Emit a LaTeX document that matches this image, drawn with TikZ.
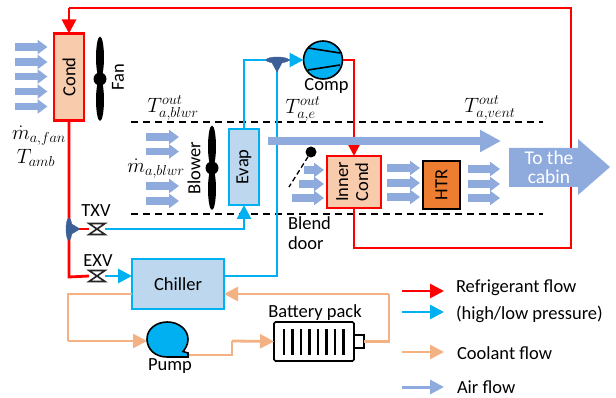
\documentclass[tikz,border=0pt]{standalone}
\usepackage{fontspec}
\setmainfont{Carlito}
\usetikzlibrary{arrows.meta,shapes.geometric}
\definecolor{refred}{HTML}{FF0000}
\definecolor{refblue}{HTML}{00B0F0}
\definecolor{coolant}{HTML}{F4B183}
\definecolor{airc}{HTML}{8FAADC}
\definecolor{condfill}{HTML}{F8CBAD}
\definecolor{evapfill}{HTML}{BDD7EE}
\definecolor{htrfill}{HTML}{ED7D31}
\definecolor{tee}{HTML}{3B5F96}
\tikzset{
  x=1pt,y=-1pt,
  every node/.style={font=\fontsize{18.5}{20}\selectfont,inner sep=0pt,outer sep=0pt},
  redline/.style={draw=refred,line width=2.8pt},
  blueline/.style={draw=refblue,line width=2.8pt},
  coolline/.style={draw=coolant,line width=2.8pt},
  redflow/.style={redline,-{Triangle[length=14pt,width=14pt]}},
  blueflow/.style={blueline,-{Triangle[length=14pt,width=14pt]}},
  coolflow/.style={coolline,-{Triangle[length=14pt,width=14pt]}},
  airflow/.style={draw=airc,line width=7.5pt,-{Triangle[length=10pt,width=14pt]}},
  bigair/.style={draw=airc,line width=7.5pt,-{Triangle[length=21pt,width=21pt]}},
  unitbox/.style={draw,line width=2.6pt,minimum width=#1,align=center},
  dashline/.style={draw=black,line width=1.5pt,dash pattern=on 7pt off 5pt},
  valvebox/.style={minimum width=16pt,minimum height=11pt},
  hub/.style={circle,fill=black,minimum size=13pt},
  blade/.style={ellipse,fill=black,minimum width=8pt,minimum height=42pt},
  teepiece/.style={fill=tee,draw=tee},
  lbl/.style={anchor=west},
  mathlbl/.style={font=\fontsize{20}{22}\selectfont},
}
\newcommand{\vbowtie}[1]{\draw[line width=1.6pt,fill=white,draw=black!85] (#1.north west)--(#1.south east)--(#1.south west)--(#1.north east)--cycle;}
\begin{document}
\begin{tikzpicture}
\useasboundingbox (0,0) rectangle (616,398);
% air arrows into condenser
\foreach \i/\y in {a/47,b/62,c/76.5,d/91.5,e/106.5}{
  \coordinate (ca\i) at (15,\y); \coordinate (cb\i) at (47.5,\y);
  \draw[airflow] (ca\i)--(cb\i);
}
\foreach \i/\y in {a/137,b/151.5,c/186,d/201}{
  \coordinate (ba\i) at (146,\y); \coordinate (bb\i) at (179,\y);
  \draw[airflow] (ba\i)--(bb\i);
}
% boxes
\node[unitbox=30pt,draw=refred,fill=condfill,minimum height=87pt] (cond) at (69,77) {\rotatebox{90}{Cond}};
\node[unitbox=30pt,draw=refblue,fill=evapfill,minimum height=76pt] (evap) at (244,167) {\rotatebox{90}{Evap}};
\node[unitbox=54pt,draw=refred,fill=condfill,minimum height=52pt] (icond) at (354,182) {\rotatebox{90}{\begin{tabular}{@{}c@{}}Inner\\[0pt]Cond\end{tabular}}};
\node[unitbox=37pt,draw=black,fill=htrfill,minimum height=48pt] (htr) at (441.5,185) {\rotatebox{90}{HTR}};
\node[unitbox=92pt,draw=refblue,fill=evapfill,minimum height=50pt] (chiller) at (178,284) {Chiller};
% compressor
\node[ellipse,draw=black,line width=1.6pt,fill=refblue,minimum width=39pt,minimum height=38pt] (comp) at (323,60) {};
\draw[line width=1.6pt] (308,48)--(340,53) (308,70)--(340,65);
\node (complbl) at (326.5,86) {Comp};
% valves
\node[valvebox] (txv) at (97,229) {};
\node[valvebox] (exv) at (97,276) {};
\coordinate (top1) at (69,8);
\coordinate (top2) at (571,8);
\coordinate (top3) at (571,248);
\coordinate (top4) at (354,248);
% tee junctions
\coordinate (teea) at (277,60);
\coordinate (teeb) at (69,229);
% dashed lines
\coordinate (d1a) at (131,122); \coordinate (d1b) at (543,122);
\coordinate (d2a) at (131,214); \coordinate (d2b) at (543,214);
\draw[dashline] (d1a)--(d1b);
\draw[dashline] (d2a)--(d2b);
% refrigerant lines
\draw[redline] (icond.south)--(top4)--(top3)--(top2)--(top1);
\draw[redflow] (top1)--(cond.north);
\draw[redline] (cond.south)--(69,277)--(exv.west);
\draw[redline] (teeb)--(txv.west);
\draw[blueflow] (exv.east)--(chiller.west |- exv.east);
\draw[blueflow] (txv.east)--(244,229)--(evap.south);
\draw[blueline] (evap.north)--(244,60)--(teea);
\draw[blueflow] (teea)--(comp.west);
\draw[blueline] (teea)--(277,276)--(chiller.east |- 277,276);
\draw[redflow] (comp.east)--(354,60)--(icond.north);
\vbowtie{txv}\vbowtie{exv}
\node (txvl) at (96,211) {TXV};
\node (exvl) at (98,261) {EXV};
% tee shapes
\fill[teepiece] (266,60) .. controls (267,56) and (287,56) .. (289,60) .. controls (287,64) and (267,64) .. (266,60);
\fill[teepiece] (271,61)--(283,61)--(277,72)--cycle;
\fill[teepiece] (69,218) .. controls (73,219) and (73,239) .. (69,240.5) .. controls (65,239) and (65,219) .. (69,218);
\fill[teepiece] (70,223)--(70,235)--(80,229)--cycle;
% fans
\node[blade] (fan1) at (100,57.5) {};
\node[blade] (fan2) at (100,100) {};
\node[hub] (fanhub) at (100,79) {};
\node[rotate=90] (fanl) at (118,77) {Fan};
\node[blade] (bl1) at (212,146.5) {};
\node[blade] (bl2) at (212,189) {};
\node[hub] (blhub) at (212,168) {};
\node[rotate=90] (bll) at (194,168) {Blower};
% air arrows cabin side
\draw[bigair] (268,141)--(501,141);
\foreach \i/\s/\y in {a/304/170,b/299/184,c/292/198}{
  \coordinate (ia\i) at (\s,\y); \coordinate (ib\i) at (324,\y);
  \draw[airflow] (ia\i)--(ib\i);
}
\foreach \i/\y in {a/168,b/183,c/197}{
  \coordinate (oa\i) at (387,\y); \coordinate (ob\i) at (420,\y);
  \draw[airflow] (oa\i)--(ob\i);
  \coordinate (pa\i) at (468,\y+1); \coordinate (pb\i) at (500,\y+1);
  \draw[airflow] (pa\i)--(pb\i);
}
% to the cabin
\fill[airc] (509,148)--(578,148)--(578,139)--(610,167)--(578,195)--(578,187)--(509,187)--cycle;
\node[white,align=center,font=\fontsize{19.5}{19.5}\selectfont] (cabin) at (549,167.5) {To the\\cabin};
% blend door
\node[circle,fill=black,minimum size=11pt] (doorhub) at (311,152) {};
\coordinate (doorend) at (289,187);
\draw[line width=1.3pt,dash pattern=on 5pt off 3pt] (doorhub)--(doorend);
\node[align=left,anchor=north west] (blend) at (288,217) {Blend\\door};
% math labels
\node[mathlbl] (m1) at (39,136) {$\dot m_{a,fan}$};
\node[mathlbl] (m2) at (36,158) {$T_{amb}$};
\node[mathlbl] (m3) at (156,169) {$\dot m_{a,blwr}$};
\node[mathlbl] (t1) at (173,108) {$T^{out}_{a,blwr}$};
\node[mathlbl] (t2) at (303,109) {$T^{out}_{a,e}$};
\node[mathlbl] (t3) at (490,108) {$T^{out}_{a,vent}$};
% coolant
\node[draw=black,line width=1.6pt,fill=white,rounded corners=1.5pt,minimum width=80pt,minimum height=39pt] (batt) at (314,341.5) {};
\node[draw=black,line width=1.2pt,fill=white,minimum width=10pt,minimum height=13pt] (term) at (359,341.5) {};
\foreach \k in {0,...,7}{\fill (284+\k*8.5-1.2,329) rectangle (284+\k*8.5+1.2,355);}
\node (battl) at (315,313) {Battery pack};
\coordinate (pumpin) at (147,341);
\coordinate (pumpout) at (188,355);
\draw[coolline] (chiller.west |- 0,294)--(68,294)--(68,341);
\draw[coolflow] (68,341)--(pumpin);
\draw[coolline] (pumpout)--(232,355)--(232,341);
\draw[coolflow] (232,341)--(batt.west);
\draw[coolline] (term.east)--(389,341.5)--(389,294);
\draw[coolflow] (389,294)--(chiller.east |- 389,294);
\fill[refblue,draw=black,line width=1.6pt] (188,357)--(167,357) .. controls (155,357) and (147,349) .. (147,339) .. controls (147,329) and (156,322) .. (167.5,322) .. controls (179,322) and (188,330) .. (188,339) .. controls (188,344) and (186,348) .. (183,351.5)--(188,353)--cycle;
\node (pumpl) at (170,366.5) {Pump};
% legend
\coordinate (la) at (402,291); \coordinate (lb) at (444,291);
\coordinate (lc) at (402,312); \coordinate (ld) at (444,312);
\coordinate (le) at (402,352); \coordinate (lf) at (444,352);
\coordinate (lg) at (402,387); \coordinate (lh) at (444,387);
\draw[redflow] (la)--(lb);
\draw[blueflow] (lc)--(ld);
\draw[coolflow] (le)--(lf);
\draw[draw=airc,line width=3pt,-{Triangle[length=14pt,width=14pt]}] (lg)--(lh);
\node[lbl] (l1) at (456,288) {Refrigerant flow};
\node[lbl] (l2) at (456,314) {(high/low pressure)};
\node[lbl] (l3) at (457,353) {Coolant flow};
\node[lbl] (l4) at (457,387) {Air flow};
\end{tikzpicture}
\end{document}
